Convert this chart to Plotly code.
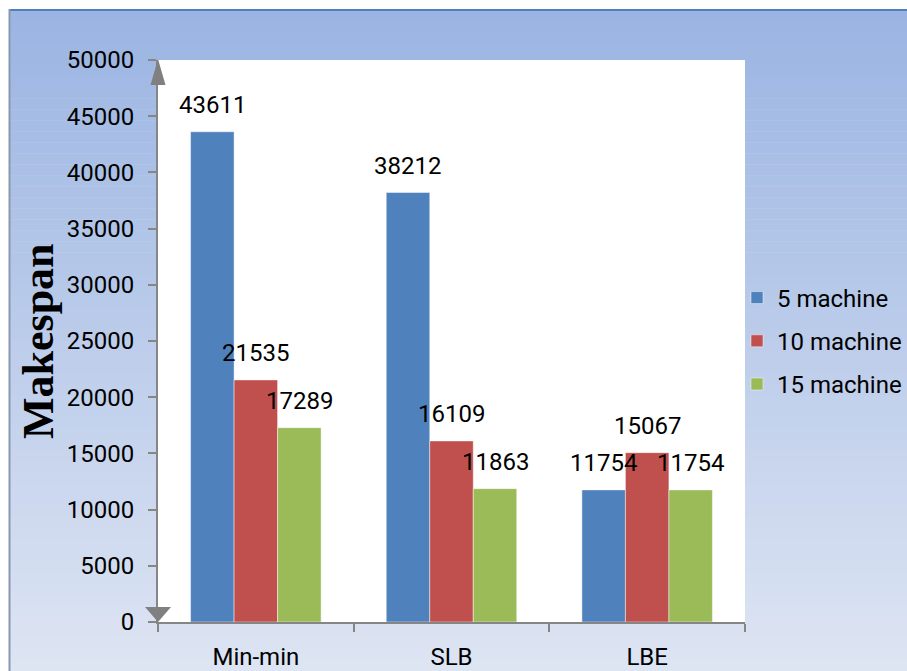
import plotly.graph_objects as go

categories = ["Min-min", "SLB", "LBE"]
series_names = ["5 machine", "10 machine", "15 machine"]
values_5 = [43611, 38212, 11754]
values_10 = [21535, 16109, 15067]
values_15 = [17289, 11863, 11754]
y_ticks = list(range(0, 50001, 5000))

colors = ["#4F81BD", "#C0504D", "#9BBB59"]
all_values = [values_5, values_10, values_15]

W, H = 907, 671
ML, MR, MT, MB = 158, 162, 60, 49
PW, PH = W - ML - MR, H - MT - MB
BARGAP = 0.333
FONT = "Roboto"


def px_x(px):
    return (px - ML) / PW


def px_y(py):
    return (H - MB - py) / PH


fig = go.Figure()
for name, vals, col in zip(series_names, all_values, colors):
    fig.add_trace(go.Bar(
        x=categories, y=vals, name=name, legendgroup=name,
        marker=dict(color=col, line=dict(color="rgba(255,255,255,0.45)", width=1)),
    ))

# data labels
bar_px = PW / len(categories) * (1 - BARGAP) / len(series_names)
annotations = []
for i, vals in enumerate(all_values):
    for c, v in zip(categories, vals):
        annotations.append(dict(
            x=c, y=v, xref="x", yref="y", text=str(v), showarrow=False,
            xshift=(i - 1) * bar_px, yshift=27, yanchor="middle",
            font=dict(family=FONT, size=24, color="black"),
        ))
annotations.append(dict(
    x=px_x(38), y=0.5, xref="paper", yref="paper", text="<b>Makespan</b>",
    textangle=-90, showarrow=False, xanchor="center", yanchor="middle",
    font=dict(family="Liberation Serif", size=44, color="black"),
))

# background gradient
shapes = []
top_c = (154, 180, 226)
bot_c = (222, 229, 243)
N = 60
y0p, y1p = 10, H
for k in range(N):
    a = y0p + (y1p - y0p) * k / N
    b = y0p + (y1p - y0p) * (k + 1) / N + 0.5
    t = (k + 0.5) / N
    c = tuple(round(top_c[j] + (bot_c[j] - top_c[j]) * t) for j in range(3))
    shapes.append(dict(type="rect", xref="paper", yref="paper", layer="below",
                       x0=px_x(9), x1=px_x(W + 2), y0=px_y(b), y1=px_y(a),
                       line=dict(width=0), fillcolor="rgb(%d,%d,%d)" % c))
# white plot area
shapes.append(dict(type="rect", xref="paper", yref="paper", layer="below",
                   x0=0, x1=1, y0=0, y1=1, line=dict(width=0), fillcolor="white"))
# frame lines
shapes.append(dict(type="line", xref="paper", yref="paper", layer="above",
                   x0=px_x(9), x1=px_x(W + 2), y0=px_y(10), y1=px_y(10),
                   line=dict(color="#4F7FC0", width=2)))
shapes.append(dict(type="line", xref="paper", yref="paper", layer="above",
                   x0=px_x(9.5), x1=px_x(9.5), y0=px_y(9), y1=px_y(H + 2),
                   line=dict(color="#8A97B0", width=2)))
# axis arrows
shapes.append(dict(type="path", xref="paper", yref="paper", layer="above",
                   xsizemode="pixel", ysizemode="pixel", xanchor=0, yanchor=1,
                   path="M-7.5,-25 L7.5,-25 L0,1 Z",
                   fillcolor="#808080", line=dict(width=0)))
shapes.append(dict(type="path", xref="paper", yref="paper", layer="above",
                   xsizemode="pixel", ysizemode="pixel", xanchor=0, yanchor=0,
                   path="M-13,15 L13,15 L0,0 Z",
                   fillcolor="#808080", line=dict(width=0)))

fig.update_layout(
    width=W, height=H,
    margin=dict(l=ML, r=MR, t=MT, b=MB, autoexpand=False),
    paper_bgcolor="white", plot_bgcolor="white",
    barmode="group", bargap=BARGAP, bargroupgap=0,
    font=dict(family=FONT, size=24, color="black"),
    showlegend=True,
    legend=dict(x=px_x(737), xanchor="left", y=0.5, yanchor="middle",
                bgcolor="rgba(0,0,0,0)", tracegroupgap=9,
                font=dict(family=FONT, size=24, color="black")),
    xaxis=dict(showline=True, linecolor="#868686", linewidth=2,
               ticks="outside", tickson="boundaries", ticklen=8, tickwidth=2,
               tickcolor="#868686", showgrid=False, ticklabelstandoff=12,
               tickfont=dict(family=FONT, size=24)),
    yaxis=dict(range=[0, 50000], tickvals=y_ticks, tickformat="d", showline=True,
               linecolor="#868686", linewidth=2, ticks="outside", ticklen=8,
               tickwidth=2, tickcolor="#868686", showgrid=False, zeroline=False,
               ticklabelstandoff=9, tickfont=dict(family=FONT, size=24)),
    annotations=annotations,
    shapes=shapes,
)

fig.write_html("out.html")
